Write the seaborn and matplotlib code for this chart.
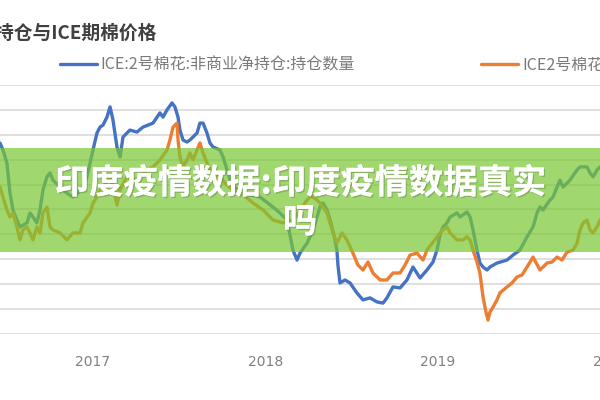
import numpy as np
import pandas as pd
import seaborn as sns
import matplotlib.pyplot as plt
from matplotlib.patches import Rectangle
import matplotlib.patheffects as pe

# ICE:2号棉花 非商业净持仓 (index units)
net_year = [2016.461, 2016.478, 2016.501, 2016.519, 2016.536, 2016.559, 2016.577, 2016.617, 2016.635, 2016.652,
            2016.675, 2016.693, 2016.710, 2016.733, 2016.751, 2016.768, 2016.809, 2016.849, 2016.884, 2016.913,
            2016.942, 2016.965, 2016.983, 2017.000, 2017.023, 2017.041, 2017.058, 2017.081, 2017.099, 2017.116,
            2017.139, 2017.157, 2017.174, 2017.214, 2017.255, 2017.290, 2017.348, 2017.388, 2017.406, 2017.429,
            2017.458, 2017.475, 2017.493, 2017.504, 2017.522, 2017.545, 2017.562, 2017.603, 2017.620, 2017.638,
            2017.661, 2017.678, 2017.696, 2017.736, 2017.754, 2017.777, 2017.794, 2017.812, 2017.852, 2017.910,
            2017.968, 2018.043, 2018.084, 2018.125, 2018.142, 2018.159, 2018.183, 2018.200, 2018.241, 2018.258,
            2018.275, 2018.299, 2018.316, 2018.333, 2018.357, 2018.374, 2018.397, 2018.414, 2018.420, 2018.432,
            2018.461, 2018.490, 2018.530, 2018.565, 2018.606, 2018.646, 2018.681, 2018.704, 2018.739, 2018.780,
            2018.820, 2018.855, 2018.896, 2018.936, 2018.971, 2018.994, 2019.012, 2019.029, 2019.052, 2019.070,
            2019.110, 2019.128, 2019.168, 2019.186, 2019.203, 2019.226, 2019.243, 2019.261, 2019.284, 2019.301,
            2019.342, 2019.400, 2019.435, 2019.475, 2019.516, 2019.551, 2019.574, 2019.591, 2019.609, 2019.649,
            2019.667, 2019.690, 2019.707, 2019.725, 2019.748, 2019.765, 2019.806, 2019.823, 2019.864, 2019.881,
            2019.899, 2019.922, 2019.939]
net_val = [76.7, 73.9, 68.7, 56.6, 49.8, 45.8, 43.0, 44.6, 48.6, 47.0,
           44.6, 49.8, 57.8, 63.1, 64.7, 61.8, 59.0, 56.6, 55.0, 56.6,
           59.0, 63.1, 68.7, 73.9, 80.7, 83.1, 83.9, 87.1, 91.2, 85.9,
           75.1, 71.1, 79.1, 81.9, 81.1, 83.1, 84.7, 88.8, 87.1, 90.0,
           92.8, 91.2, 87.1, 81.9, 77.9, 77.1, 77.9, 80.7, 84.7, 84.7,
           80.7, 76.7, 75.1, 73.9, 71.1, 65.9, 61.8, 59.0, 57.8, 55.8,
           55.0, 51.0, 48.6, 45.8, 39.8, 33.7, 29.7, 32.5, 36.5, 39.0,
           41.8, 47.0, 51.0, 52.6, 49.8, 45.8, 39.8, 33.7, 27.7, 20.5,
           21.7, 20.5, 16.5, 13.7, 14.5, 12.9, 12.4, 14.5, 18.9, 18.5,
           21.7, 26.9, 22.5, 25.7, 28.9, 33.7, 39.8, 43.0, 44.6, 47.0,
           48.6, 47.0, 49.0, 47.0, 41.8, 33.7, 28.5, 26.9, 25.7, 26.9,
           28.5, 29.7, 31.7, 33.7, 39.0, 43.0, 48.6, 51.0, 49.8, 53.8,
           55.0, 59.0, 61.8, 59.0, 60.6, 61.8, 65.9, 67.1, 67.1, 64.7,
           63.1, 65.9, 67.1]

# ICE2号棉花 期货价格 (index units)
price_year = [2016.461, 2016.478, 2016.501, 2016.519, 2016.536, 2016.559, 2016.577, 2016.594, 2016.617, 2016.635,
              2016.652, 2016.675, 2016.693, 2016.710, 2016.733, 2016.751, 2016.768, 2016.809, 2016.849, 2016.884,
              2016.925, 2016.942, 2016.983, 2017.000, 2017.023, 2017.041, 2017.058, 2017.081, 2017.099, 2017.116,
              2017.139, 2017.157, 2017.197, 2017.232, 2017.272, 2017.313, 2017.348, 2017.388, 2017.429, 2017.446,
              2017.464, 2017.487, 2017.493, 2017.504, 2017.522, 2017.545, 2017.562, 2017.580, 2017.603, 2017.620,
              2017.638, 2017.661, 2017.678, 2017.696, 2017.736, 2017.777, 2017.812, 2017.852, 2017.928, 2017.986,
              2018.043, 2018.101, 2018.159, 2018.200, 2018.241, 2018.258, 2018.275, 2018.299, 2018.316, 2018.357,
              2018.374, 2018.391, 2018.414, 2018.443, 2018.472, 2018.507, 2018.536, 2018.565, 2018.594, 2018.623,
              2018.664, 2018.704, 2018.739, 2018.780, 2018.809, 2018.838, 2018.878, 2018.913, 2018.936, 2018.971,
              2019.012, 2019.029, 2019.052, 2019.070, 2019.110, 2019.145, 2019.168, 2019.186, 2019.203, 2019.226,
              2019.243, 2019.261, 2019.278, 2019.290, 2019.301, 2019.319, 2019.342, 2019.359, 2019.400, 2019.429,
              2019.458, 2019.487, 2019.516, 2019.551, 2019.591, 2019.632, 2019.661, 2019.690, 2019.719, 2019.748,
              2019.783, 2019.806, 2019.823, 2019.841, 2019.864, 2019.881, 2019.899, 2019.922, 2019.939]
price_val = [59.0, 55.0, 49.8, 47.0, 48.6, 43.0, 37.8, 41.8, 43.0, 40.6,
             37.8, 43.0, 40.6, 48.6, 51.0, 43.0, 41.8, 40.6, 37.8, 40.6,
             40.6, 44.6, 48.6, 52.6, 55.0, 57.8, 59.0, 61.8, 63.1, 59.0,
             51.8, 57.8, 63.1, 61.8, 62.7, 65.9, 67.1, 69.9, 73.9, 77.9,
             83.1, 84.7, 77.9, 71.1, 67.1, 69.9, 72.7, 69.9, 73.9, 76.7,
             72.7, 68.7, 65.9, 64.7, 63.1, 59.8, 57.8, 57.0, 52.6, 49.8,
             45.8, 44.6, 45.8, 49.8, 53.8, 55.0, 55.0, 53.8, 52.6, 48.6,
             44.6, 40.6, 36.5, 40.6, 37.8, 32.5, 27.7, 25.7, 28.9, 24.5,
             21.7, 21.7, 24.5, 24.5, 27.7, 31.7, 32.5, 29.7, 33.7, 36.9,
             40.6, 41.8, 43.0, 40.6, 37.8, 37.8, 39.0, 37.8, 33.7, 28.9,
             24.5, 14.9, 8.8, 5.6, 8.8, 10.8, 13.7, 16.5, 18.9, 20.5,
             22.9, 23.7, 26.9, 30.9, 25.7, 28.5, 28.9, 30.9, 29.7, 32.9,
             33.7, 36.5, 41.8, 44.6, 45.8, 41.8, 40.6, 43.0, 45.8]

series_names = ['ICE:2号棉花:非商业净持仓:持仓数量', 'ICE2号棉花:期货结算价(活跃合约)']
year_ticks = [2017, 2018, 2019, 2020]

df = pd.concat([
    pd.DataFrame({'year': net_year, 'value': net_val, 'series': series_names[0]}),
    pd.DataFrame({'year': price_year, 'value': price_val, 'series': series_names[1]}),
])

sns.set_theme(style='white')
plt.rcParams['font.family'] = ['Noto Sans CJK SC', 'DejaVu Sans']

fig = plt.figure(figsize=(6, 4), dpi=100)
ax = fig.add_axes([0, 0.165, 1.05, 0.6225])

sns.lineplot(data=df, x='year', y='value', hue='series', palette=['#4472C4', '#ED7D31'],
             linewidth=2.4, errorbar=None, ax=ax)

ax.set_xlim(2016.461, 2020.113)
ax.set_ylim(0, 100)
ax.set_yticks(np.arange(0, 101, 10))
ax.set_yticklabels([])
ax.set_xticks(year_ticks)
ax.set_xticklabels([str(y) for y in year_ticks], fontsize=10, color='#808080', family='DejaVu Sans')
ax.tick_params(axis='x', length=0, pad=15)
ax.tick_params(axis='y', length=0)
ax.grid(axis='y', color='#d9d9d9', linewidth=1.2)
ax.set_xlabel('')
ax.set_ylabel('')
for s in ax.spines.values():
    s.set_visible(False)

ax.legend(loc='center left', bbox_to_anchor=(0.1, 0.8375), bbox_transform=fig.transFigure,
          ncol=2, frameon=False, fontsize=11.5, handlelength=2.3, handletextpad=0.25,
          columnspacing=7.9, borderpad=0, borderaxespad=0, labelcolor='#7a7a7a')

fig.text(157 / 600, 1 - 33 / 400, '非商业净持仓与ICE期棉价格', ha='right', va='center',
         fontsize=13.5, fontweight='bold', color='#404040')

# green banner overlay
fig.add_artist(Rectangle((0, 0.37), 1, 0.26, transform=fig.transFigure,
                         facecolor=(120 / 255, 200 / 255, 50 / 255), alpha=0.7,
                         edgecolor='none', zorder=5))
shadow = [pe.withSimplePatchShadow(offset=(1, -1), shadow_rgbFace='#6a8a50', alpha=0.5), pe.Normal()]
fig.text(0.5, 1 - 183 / 400, '印度疫情数据:印度疫情数据真实', ha='center', va='center',
         fontsize=24.7, fontweight='bold', color='white', zorder=6, path_effects=shadow)
fig.text(0.5, 1 - 222 / 400, '吗', ha='center', va='center',
         fontsize=24.7, fontweight='bold', color='white', zorder=6, path_effects=shadow)

fig.savefig('out.png', dpi=100)
